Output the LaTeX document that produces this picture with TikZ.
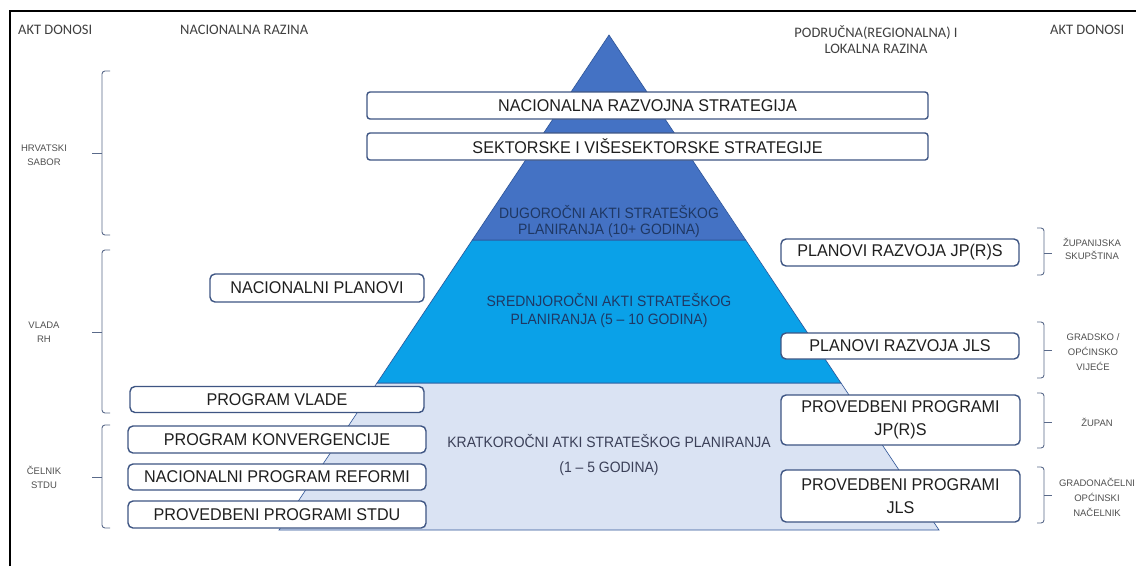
\documentclass[tikz,border=0pt]{standalone}
\usepackage{fontspec}
\setmainfont{Liberation Sans}
\newfontfamily\boxfont[FakeStretch=0.95]{Liberation Sans}
\newfontfamily\pyrfont[FakeStretch=0.93]{Liberation Sans}
\newfontfamily\hdrfont{Carlito}
\definecolor{pdark}{HTML}{4472C4}
\definecolor{pmid}{HTML}{0AA1E8}
\definecolor{plight}{HTML}{DAE3F3}
\definecolor{pedge}{HTML}{2F5597}
\definecolor{boxedge}{HTML}{3E5583}
\definecolor{bracecol}{HTML}{5A6A8A}
\definecolor{smalltxt}{HTML}{505050}
\definecolor{hdrtxt}{HTML}{404040}
\definecolor{pyrtxt}{HTML}{1F3864}
\definecolor{pyrtxtb}{HTML}{3B4058}
\begin{document}
\begin{tikzpicture}[x=1pt,y=-1pt,
  box/.style={draw=boxedge, line width=1.4pt, fill=white, rounded corners=5pt, inner sep=0pt, font=\boxfont\fontsize{17}{23}\selectfont, text=black!88, align=center},
  hdr/.style={font=\hdrfont\fontsize{14.5}{16}\selectfont, text=hdrtxt, align=center, inner sep=0pt},
  small/.style={font=\fontsize{9.5}{14}\selectfont, text=smalltxt, align=center, inner sep=0pt},
  pyr/.style={font=\pyrfont\fontsize{15}{17}\selectfont, text=pyrtxt, align=center, inner sep=0pt},
  pyrpart/.style={draw=pedge, line width=0.6pt},
  brace/.style={draw=bracecol, line width=0.9pt, rounded corners=3pt},
  frameline/.style={draw=black, line width=2pt}
]
\useasboundingbox (0,0) rectangle (1136,566);
\fill[white] (0,0) rectangle (1136,566);
% frame
\draw[frameline] (9.5,566) -- (9.5,11) -- (1136,11);

% pyramid
\coordinate (apex) at (609,35);
\filldraw[pyrpart, fill=plight] (377,383) -- (841,383) -- (939,530) -- (279,530) -- cycle;
\filldraw[pyrpart, fill=pmid] (472.3,240) -- (745.7,240) -- (841,383) -- (377,383) -- cycle;
\filldraw[pyrpart, fill=pdark] (apex) -- (745.7,240) -- (472.3,240) -- cycle;

\node[pyr, font=\pyrfont\fontsize{15}{16}\selectfont] (dugo) at (609,221) {DUGOROČNI AKTI STRATEŠKOG\\PLANIRANJA (10+ GODINA)};
\node[pyr, font=\pyrfont\fontsize{15}{18}\selectfont] (sred) at (609,310) {SREDNJOROČNI AKTI STRATEŠKOG\\PLANIRANJA (5 – 10 GODINA)};
\node[pyr, font=\pyrfont\fontsize{15}{25}\selectfont, text=pyrtxtb] (krat) at (609,455) {KRATKOROČNI ATKI STRATEŠKOG PLANIRANJA\\(1 – 5 GODINA)};

% headers
\node[hdr, anchor=west] (aktl) at (18,30) {AKT DONOSI};
\node[hdr, anchor=west] (nacr) at (180,30) {NACIONALNA RAZINA};
\node[hdr] (podr) at (876,39.5) {PODRUČNA(REGIONALNA) I\\LOKALNA RAZINA};
\node[hdr, anchor=west] (aktr) at (1050,30) {AKT DONOSI};

% central / left boxes
\node[box, minimum width=561pt, minimum height=27pt, rounded corners=3pt] (nrs) at (647.5,105.5) {NACIONALNA RAZVOJNA STRATEGIJA};
\node[box, minimum width=561pt, minimum height=27pt, rounded corners=3pt] (svs) at (647.5,146.5) {SEKTORSKE I VIŠESEKTORSKE STRATEGIJE};
\node[box, minimum width=214pt, minimum height=28pt] (np) at (317,288) {NACIONALNI PLANOVI};
\node[box, minimum width=294pt, minimum height=26pt] (pv) at (277,399.5) {PROGRAM VLADE};
\node[box, minimum width=298pt, minimum height=27pt] (pk) at (277,439.5) {PROGRAM KONVERGENCIJE};
\node[box, minimum width=298pt, minimum height=26pt] (npr) at (277,477) {NACIONALNI PROGRAM REFORMI};
\node[box, minimum width=298pt, minimum height=27pt] (pps) at (277,514.5) {PROVEDBENI PROGRAMI STDU};

% right boxes
\node[box, minimum width=238pt, minimum height=27pt] (prj) at (900,252.5) {PLANOVI RAZVOJA JP(R)S};
\node[box, minimum width=238pt, minimum height=26pt] (prl) at (900,346) {PLANOVI RAZVOJA JLS};
\node[box, minimum width=239pt, minimum height=50pt] (ppj) at (900.5,420) {PROVEDBENI PROGRAMI\\JP(R)S};
\node[box, minimum width=239pt, minimum height=52pt] (ppl) at (900.5,496) {PROVEDBENI PROGRAMI\\JLS};

% left braces
\draw[brace] (110,71) -- (102,71) -- (102,235) -- (110,235);
\draw[draw=bracecol, line width=0.9pt] (102,153) -- (92,153);
\draw[brace] (110,250) -- (102,250) -- (102,413) -- (110,413);
\draw[draw=bracecol, line width=0.9pt] (102,332) -- (92,332);
\draw[brace] (110,425) -- (102,425) -- (102,528) -- (110,528);
\draw[draw=bracecol, line width=0.9pt] (102,477) -- (92,477);

% right braces
\draw[brace] (1037,228) -- (1044,228) -- (1044,275) -- (1037,275);
\draw[draw=bracecol, line width=0.9pt] (1044,253) -- (1052,253);
\draw[brace] (1037,322) -- (1044,322) -- (1044,378) -- (1037,378);
\draw[draw=bracecol, line width=0.9pt] (1044,350) -- (1052,350);
\draw[brace] (1037,393) -- (1044,393) -- (1044,448) -- (1037,448);
\draw[draw=bracecol, line width=0.9pt] (1044,422) -- (1052,422);
\draw[brace] (1037,467) -- (1044,467) -- (1044,523) -- (1037,523);
\draw[draw=bracecol, line width=0.9pt] (1044,495) -- (1052,495);

% small labels
\node[small] (hs) at (44,155) {HRVATSKI\\SABOR};
\node[small] (vrh) at (44,332) {VLADA\\RH};
\node[small] (cs) at (44,477) {ČELNIK\\STDU};
\node[small, font=\fontsize{9.5}{12.5}\selectfont] (zs) at (1092,249) {ŽUPANIJSKA\\SKUPŠTINA};
\node[small, font=\fontsize{9.5}{15}\selectfont] (gov) at (1093,352) {GRADSKO /\\OPĆINSKO\\VIJEĆE};
\node[small] (zup) at (1097,422) {ŽUPAN};
\node[small, font=\fontsize{9.5}{15}\selectfont] (gon) at (1097,497) {GRADONAČELNI\\OPĆINSKI\\NAČELNIK};
\end{tikzpicture}
\end{document}
